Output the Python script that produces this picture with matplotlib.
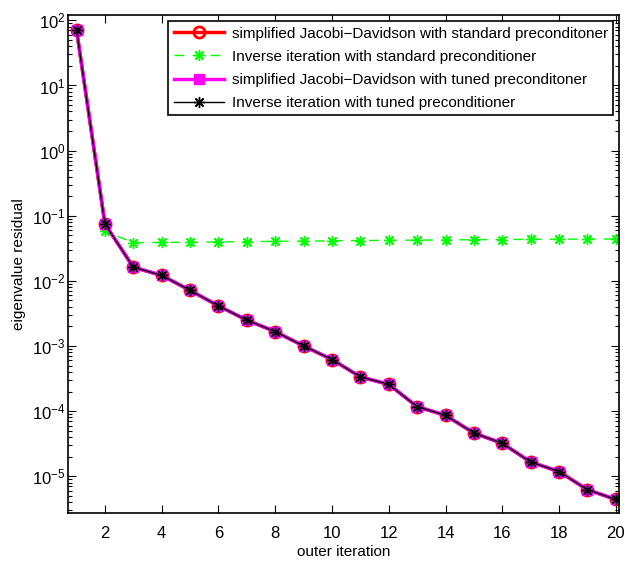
import matplotlib
matplotlib.use("Agg")
import matplotlib.pyplot as plt
from matplotlib.ticker import LogLocator, NullFormatter, FixedLocator

plt.rcParams['font.family'] = ['Liberation Sans', 'DejaVu Sans']
plt.rcParams['mathtext.fontset'] = 'custom'
plt.rcParams['mathtext.rm'] = 'Liberation Sans'

iters = list(range(1, 21))
jd_standard = [71, 0.0747, 0.0162, 0.0121, 0.00714, 0.00412, 0.00249, 0.00166,
               0.00100, 6.2e-4, 3.35e-4, 2.57e-4, 1.17e-4, 8.6e-5, 4.6e-5,
               3.2e-5, 1.65e-5, 1.18e-5, 6.2e-6, 4.4e-6]
inv_standard = [71, 0.058, 0.0385, 0.0388, 0.0392, 0.0396, 0.0400, 0.0404,
                0.0408, 0.0412, 0.0416, 0.0419, 0.0422, 0.0425, 0.0428,
                0.0431, 0.0434, 0.0436, 0.0438, 0.0440]
jd_tuned = jd_standard[:]
inv_tuned = jd_standard[:]

labels = ["simplified Jacobi\u2212Davidson with standard preconditoner",
          "Inverse iteration with standard preconditioner",
          "simplified Jacobi\u2212Davidson with tuned preconditoner",
          "Inverse iteration with tuned preconditioner"]
xticks = [2, 4, 6, 8, 10, 12, 14, 16, 18, 20]
yticks = [1e-5, 1e-4, 1e-3, 1e-2, 1e-1, 1e0, 1e1, 1e2]

fig = plt.figure(figsize=(6.28, 5.62), dpi=100)
ax = fig.add_axes([0.1088, 0.0867, 0.986 - 0.1088, 0.973 - 0.0867])

ast = (8, 2, 0)
ax.semilogy(iters, jd_standard, color='red', lw=2.5, marker='o', ms=8,
            mfc='none', mec='red', mew=2, label=labels[0])
ax.semilogy(iters, inv_standard, color=(0, 1, 0), lw=1, ls=(0, (7, 6)),
            marker=ast, ms=8, mew=1, label=labels[1])
ax.semilogy(iters, jd_tuned, color='magenta', lw=2.5, marker='s', ms=7,
            mfc='magenta', mec='magenta', label=labels[2])
ax.semilogy(iters, inv_tuned, color='black', lw=1, marker=ast, ms=8,
            mew=1, label=labels[3])

ax.set_xlim(0.71, 20.12)
ax.set_ylim(2.7e-6, 120)
ax.xaxis.set_major_locator(FixedLocator(xticks))
ax.yaxis.set_major_locator(FixedLocator(yticks))
ax.yaxis.set_minor_locator(LogLocator(base=10, subs=range(2, 10), numticks=20))
ax.yaxis.set_minor_formatter(NullFormatter())
ax.tick_params(which='both', direction='in', top=True, right=True, labelsize=12)
ax.tick_params(which='major', length=6, width=0.8)
ax.tick_params(which='minor', length=3, width=0.8)
ax.tick_params(axis='x', which='major', pad=9)
ax.tick_params(axis='y', which='major', pad=2)
for s in ax.spines.values():
    s.set_linewidth(1.2)

ax.set_xlabel("outer iteration", fontsize=11, labelpad=3)
ax.set_ylabel("eigenvalue residual", fontsize=11, labelpad=4)

leg = ax.legend(loc='upper right', fontsize=11, frameon=True, fancybox=False,
                edgecolor='black', framealpha=1, borderaxespad=0.4,
                handlelength=3.3, borderpad=0.35, labelspacing=0.6, handletextpad=0.5)
leg.get_frame().set_linewidth(1.2)

fig.savefig("out.png", dpi=100)
